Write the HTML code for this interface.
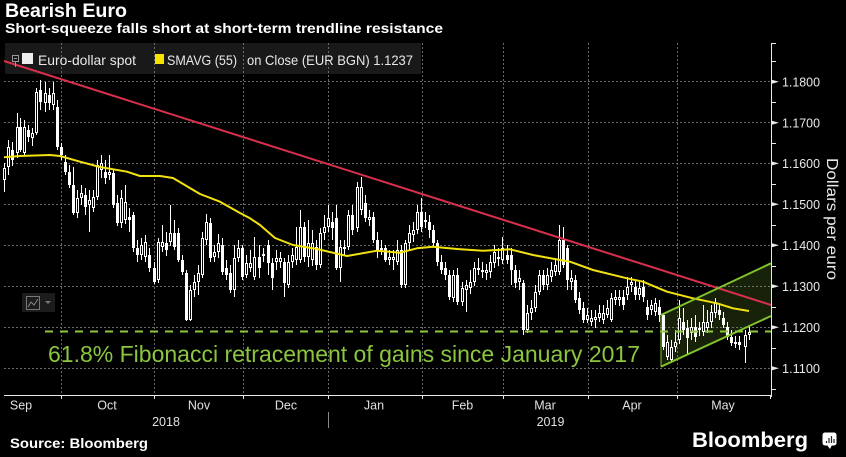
<!DOCTYPE html>
<html><head><meta charset="utf-8"><style>
html,body{margin:0;padding:0;background:#000;width:846px;height:457px;overflow:hidden}
svg{display:block}
text{font-family:"Liberation Sans",sans-serif}
</style></head><body>
<svg width="846" height="457" viewBox="0 0 846 457" xmlns="http://www.w3.org/2000/svg">
<rect x="0" y="0" width="846" height="457" fill="#000"/>
<!-- titles -->
<text x="5" y="17" font-size="19" font-weight="bold" fill="#fff" textLength="122" lengthAdjust="spacingAndGlyphs">Bearish Euro</text>
<text x="5" y="33" font-size="13.5" font-weight="bold" fill="#fff" textLength="438" lengthAdjust="spacingAndGlyphs">Short-squeeze falls short at short-term trendline resistance</text>

<!-- legend bg -->
<rect x="5" y="43" width="416" height="31" fill="#191919"/>

<!-- grid -->
<g stroke="#6a6a6a" stroke-width="1" stroke-dasharray="2 2" fill="none">
<path d="M61.5 43V395M154.5 43V395M243.5 43V395M328.5 43V395M422.5 43V395M503.5 43V395M588.5 43V395M677.5 43V395"/>
<path d="M4 81.5H771M4 122.5H771M4 163.5H771M4 204.5H771M4 245.5H771M4 286.5H771M4 327.5H771M4 368.5H771"/>
</g>

<!-- channel fill -->
<polygon points="661,315 771,263.3 771,316 661,366.7" fill="#8cc63e" fill-opacity="0.17"/>

<!-- candle wicks -->
<path fill="none" stroke="#fff" stroke-width="1" d="M4.5 163V192 M8.5 140V175 M12.5 142V166 M17.5 113V158 M20.5 118V152 M24.5 120V156 M28.5 125V142 M32.5 128V146 M36.5 88V135 M40.5 80V110 M45.5 82V112 M49.5 88V110 M53.5 82V110 M57.5 100V150 M61.5 143V160 M65.5 155V175 M69.5 165V188 M73.5 167V215 M77.5 190V218 M81.5 185V205 M85.5 188V215 M89.5 190V232 M93.5 190V212 M97.5 160V200 M101.5 155V178 M105.5 160V184 M109.5 155V180 M113.5 170V208 M117.5 195V226 M121.5 190V228 M125.5 185V224 M129.5 208V232 M133.5 212V252 M137.5 240V262 M141.5 238V260 M145.5 235V262 M149.5 248V272 M154.5 262V284 M158.5 238V283 M162.5 225V252 M166.5 232V256 M170.5 205V246 M174.5 220V250 M178.5 228V262 M182.5 255V275 M186.5 270V321 M190.5 285V321 M194.5 275V297 M198.5 265V295 M202.5 232V278 M206.5 214V245 M210.5 218V262 M214.5 245V262 M218.5 234V258 M222.5 238V275 M226.5 260V280 M230.5 265V293 M234.5 245V297 M238.5 240V262 M242.5 245V280 M246.5 255V278 M250.5 250V272 M254.5 237V280 M259.5 245V278 M263.5 248V262 M268.5 240V275 M272.5 258V290 M276.5 250V270 M280.5 252V268 M284.5 258V297 M288.5 255V288 M292.5 248V268 M296.5 227V265 M300.5 210V263 M304.5 222V262 M308.5 220V267 M312.5 230V266 M316.5 240V270 M320.5 228V268 M324.5 215V240 M328.5 205V232 M332.5 212V240 M336.5 205V270 M340.5 240V282 M344.5 240V255 M348.5 210V250 M352.5 205V235 M357.5 182V232 M361.5 177V215 M365.5 195V222 M369.5 210V226 M373.5 212V243 M377.5 232V258 M381.5 240V255 M385.5 245V262 M389.5 250V265 M393.5 250V270 M397.5 240V265 M401.5 245V288 M405.5 240V288 M409.5 225V250 M413.5 222V242 M417.5 205V234 M421.5 198V232 M425.5 212V228 M429.5 215V238 M433.5 225V246 M437.5 240V266 M441.5 255V274 M445.5 262V280 M449.5 270V300 M453.5 270V302 M457.5 268V305 M462.5 282V306 M466.5 280V312 M470.5 270V294 M474.5 262V286 M478.5 258V275 M482.5 262V278 M486.5 264V280 M490.5 255V278 M494.5 245V268 M498.5 248V266 M502.5 237V264 M507.5 245V264 M511.5 248V285 M515.5 265V288 M519.5 270V290 M523.5 280V335 M527.5 305V333 M531.5 300V320 M535.5 285V312 M539.5 270V295 M543.5 270V290 M547.5 268V290 M551.5 262V282 M555.5 258V276 M559.5 225V275 M563.5 227V268 M567.5 245V290 M571.5 270V290 M575.5 275V303 M579.5 292V314 M583.5 302V323 M587.5 308V323 M591.5 310V326 M595.5 310V328 M599.5 305V322 M603.5 305V324 M607.5 300V318 M611.5 293V322 M615.5 290V305 M619.5 290V306 M623.5 290V310 M627.5 277V300 M631.5 277V292 M635.5 280V300 M639.5 282V300 M643.5 280V302 M647.5 300V320 M651.5 300V315 M655.5 298V316 M659.5 300V322 M663.5 313V350 M667.5 335V360 M671.5 340V363 M675.5 330V352 M679.5 300V344 M683.5 308V335 M687.5 320V355 M691.5 318V340 M695.5 315V342 M699.5 322V336 M703.5 305V336 M707.5 310V333 M711.5 305V328 M715.5 298V318 M719.5 305V320 M723.5 312V328 M727.5 322V340 M731.5 330V346 M735.5 336V348 M739.5 336V350 M745.5 330V363 M749.5 325V340"/>

<!-- filled bodies -->
<path fill="#fff" d="M11 150h3V160h-3z M19 127h3V150h-3z M27 130h3V137h-3z M39 90h3V102h-3z M48 95h3V103h-3z M56 107h3V147h-3z M60 147h3V155h-3z M64 162h3V172h-3z M68 172h3V185h-3z M72 185h3V213h-3z M84 195h3V207h-3z M104 172h3V178h-3z M112 173h3V205h-3z M116 203h3V223h-3z M128 217h3V220h-3z M132 215h3V248h-3z M136 248h3V255h-3z M148 255h3V268h-3z M153 268h3V282h-3z M165 243h3V250h-3z M173 233h3V247h-3z M177 233h3V260h-3z M181 260h3V272h-3z M185 273h3V320h-3z M209 223h3V258h-3z M221 245h3V272h-3z M225 268h3V275h-3z M229 273h3V290h-3z M241 248h3V277h-3z M258 257h3V268h-3z M267 245h3V263h-3z M271 263h3V278h-3z M283 262h3V283h-3z M303 227h3V257h-3z M315 247h3V265h-3z M331 222h3V228h-3z M335 218h3V268h-3z M351 215h3V230h-3z M364 203h3V218h-3z M372 217h3V240h-3z M376 240h3V250h-3z M384 248h3V260h-3z M400 250h3V285h-3z M420 212h3V227h-3z M428 222h3V230h-3z M432 230h3V243h-3z M436 243h3V262h-3z M440 262h3V270h-3z M444 268h3V275h-3z M448 275h3V297h-3z M456 275h3V302h-3z M481 270h3V272h-3z M506 255h3V260h-3z M510 255h3V270h-3z M514 270h3V283h-3z M522 283h3V330h-3z M542 275h3V285h-3z M562 240h3V265h-3z M566 248h3V280h-3z M574 280h3V300h-3z M578 298h3V310h-3z M582 308h3V320h-3z M622 297h3V305h-3z M634 287h3V295h-3z M642 287h3V297h-3z M646 307h3V315h-3z M658 307h3V315h-3z M662 315h3V347h-3z M682 322h3V330h-3z M686 328h3V338h-3z M694 327h3V337h-3z M718 310h3V315h-3z M722 318h3V325h-3z M726 327h3V337h-3z M730 337h3V343h-3z M738 342h3V345h-3z"/>

<!-- hollow bodies -->
<path fill="#000" stroke="#fff" stroke-width="1" d="M3.5 168.5h2V179.5h-2z M7.5 147.5h2V166.5h-2z M16.5 127.5h2V152.5h-2z M23.5 127.5h2V152.5h-2z M31.5 133.5h2V137.5h-2z M35.5 92.5h2V132.5h-2z M44.5 93.5h2V102.5h-2z M52.5 93.5h2V104.5h-2z M76.5 198.5h2V212.5h-2z M80.5 193.5h2V197.5h-2z M88.5 200.5h2V204.5h-2z M92.5 197.5h2V207.5h-2z M96.5 165.5h2V196.5h-2z M100.5 163.5h2V169.5h-2z M108.5 172.5h2V174.5h-2z M120.5 198.5h2V222.5h-2z M124.5 202.5h2V219.5h-2z M140.5 245.5h2V254.5h-2z M144.5 242.5h2V256.5h-2z M157.5 242.5h2V279.5h-2z M161.5 242.5h2V246.5h-2z M169.5 233.5h2V241.5h-2z M189.5 290.5h2V319.5h-2z M193.5 282.5h2V289.5h-2z M197.5 273.5h2V281.5h-2z M201.5 238.5h2V274.5h-2z M205.5 222.5h2V239.5h-2z M213.5 252.5h2V256.5h-2z M217.5 243.5h2V251.5h-2z M233.5 258.5h2V289.5h-2z M237.5 248.5h2V257.5h-2z M245.5 263.5h2V274.5h-2z M249.5 263.5h2V267.5h-2z M253.5 257.5h2V276.5h-2z M262.5 254.5h2V255.5h-2z M275.5 258.5h2V261.5h-2z M279.5 258.5h2V261.5h-2z M287.5 262.5h2V284.5h-2z M291.5 255.5h2V261.5h-2z M295.5 247.5h2V259.5h-2z M299.5 227.5h2V259.5h-2z M307.5 243.5h2V256.5h-2z M311.5 243.5h2V259.5h-2z M319.5 233.5h2V264.5h-2z M323.5 227.5h2V232.5h-2z M327.5 218.5h2V226.5h-2z M339.5 247.5h2V267.5h-2z M343.5 247.5h2V248.5h-2z M347.5 215.5h2V246.5h-2z M356.5 187.5h2V227.5h-2z M360.5 187.5h2V209.5h-2z M368.5 217.5h2V219.5h-2z M380.5 248.5h2V249.5h-2z M388.5 257.5h2V259.5h-2z M392.5 257.5h2V259.5h-2z M396.5 250.5h2V261.5h-2z M404.5 243.5h2V284.5h-2z M408.5 233.5h2V242.5h-2z M412.5 230.5h2V234.5h-2z M416.5 212.5h2V229.5h-2z M424.5 220.5h2V221.5h-2z M452.5 275.5h2V297.5h-2z M461.5 288.5h2V301.5h-2z M465.5 285.5h2V289.5h-2z M469.5 282.5h2V287.5h-2z M473.5 268.5h2V281.5h-2z M477.5 268.5h2V269.5h-2z M485.5 270.5h2V272.5h-2z M489.5 262.5h2V271.5h-2z M493.5 252.5h2V262.5h-2z M497.5 257.5h2V258.5h-2z M501.5 248.5h2V259.5h-2z M518.5 278.5h2V281.5h-2z M526.5 313.5h2V329.5h-2z M530.5 308.5h2V312.5h-2z M534.5 292.5h2V307.5h-2z M538.5 275.5h2V291.5h-2z M546.5 275.5h2V284.5h-2z M550.5 270.5h2V276.5h-2z M554.5 265.5h2V271.5h-2z M558.5 240.5h2V271.5h-2z M570.5 278.5h2V281.5h-2z M586.5 315.5h2V319.5h-2z M590.5 318.5h2V321.5h-2z M594.5 317.5h2V319.5h-2z M598.5 313.5h2V317.5h-2z M602.5 313.5h2V319.5h-2z M606.5 308.5h2V314.5h-2z M610.5 298.5h2V319.5h-2z M614.5 297.5h2V299.5h-2z M618.5 297.5h2V299.5h-2z M626.5 287.5h2V294.5h-2z M630.5 282.5h2V284.5h-2z M638.5 288.5h2V294.5h-2z M650.5 305.5h2V309.5h-2z M654.5 303.5h2V311.5h-2z M666.5 342.5h2V356.5h-2z M670.5 347.5h2V359.5h-2z M674.5 342.5h2V346.5h-2z M678.5 318.5h2V339.5h-2z M690.5 327.5h2V332.5h-2z M698.5 328.5h2V329.5h-2z M702.5 322.5h2V331.5h-2z M706.5 322.5h2V327.5h-2z M710.5 312.5h2V321.5h-2z M714.5 303.5h2V312.5h-2z M734.5 342.5h2V343.5h-2z M744.5 335.5h2V346.5h-2z M748.5 332.5h2V334.5h-2z"/>

<!-- SMA -->
<path fill="none" stroke="#f2e20f" stroke-width="2" stroke-linejoin="round" d="M4 157.3 L20 156 L50 155 L60 156 L80 161.7 L100 167 L127 171.7 L140 176 L160 176 L173 178 L200 194 L220 201.7 L240 213 L250 218.3 L260 225 L275 238 L293 245 L317 249 L347 256 L377 250.7 L400 252.7 L417 248.3 L433 246.7 L457 249 L483 250.7 L510 249.3 L533 255 L560 260 L570 261.7 L593 270 L627 278.3 L643 281.7 L667 291.7 L693 298.3 L717 303.3 L733 308.3 L749 311"/>

<!-- red trendline -->
<line x1="4" y1="61" x2="771" y2="305" stroke="#d8304c" stroke-width="2"/>

<!-- channel lines -->
<g stroke="#80c22c" stroke-width="2" fill="none">
<line x1="661" y1="315" x2="771" y2="263.3"/>
<line x1="661" y1="366.7" x2="771" y2="316"/>
<line x1="661" y1="315" x2="661" y2="366.7" stroke-width="1"/>
</g>

<!-- fib line -->
<line x1="45" y1="331.5" x2="771" y2="331.5" stroke="#8cc63e" stroke-width="2" stroke-dasharray="8 7"/>
<text x="48" y="362" font-size="23" fill="#8cc63e" textLength="592" lengthAdjust="spacingAndGlyphs">61.8% Fibonacci retracement of gains since January 2017</text>

<!-- legend content -->
<g>
<rect x="12.5" y="55.5" width="6" height="6" fill="none" stroke="#999" stroke-width="1"/>
<line x1="14" y1="58.5" x2="17" y2="58.5" stroke="#999"/>
<line x1="15.5" y1="62" x2="15.5" y2="67" stroke="#999"/>
<rect x="22" y="53" width="11" height="11" fill="#eee"/>
<text x="38" y="65" font-size="14" fill="#e8e8e8" textLength="98" lengthAdjust="spacingAndGlyphs">Euro-dollar spot</text>
<rect x="155" y="54" width="9" height="10" fill="#f5e400"/>
<text x="167" y="65" font-size="14" fill="#e8e8e8" textLength="70" lengthAdjust="spacingAndGlyphs">SMAVG (55)</text>
<text x="247" y="65" font-size="14" fill="#e8e8e8" textLength="166" lengthAdjust="spacingAndGlyphs">on Close (EUR BGN) 1.1237</text>
</g>

<!-- chart widget -->
<rect x="22" y="293" width="33" height="19" fill="#1c1c1c"/>
<rect x="26.5" y="296.5" width="13" height="13" fill="none" stroke="#777" stroke-width="1"/>
<polyline points="28,307 31,302 34,305 38,299" fill="none" stroke="#888" stroke-width="1"/>
<polygon points="45,301 51,301 48,304" fill="#777"/>

<!-- y axis -->
<g stroke="#e8e8e8" stroke-width="1" fill="none">
<line x1="771.5" y1="43" x2="771.5" y2="397"/>
<path d="M771 43.5H776 M771 61.5H776 M771 102.5H776 M771 143.5H776 M771 184.5H776 M771 225.5H776 M771 266.5H776 M771 307.5H776 M771 348.5H776 M771 389.5H776"/>
</g>
<g fill="#e8e8e8">
<polygon points="771,79.5 779,81.7 771,84"/>
<polygon points="771,120.5 779,122.7 771,125"/>
<polygon points="771,161.2 779,163.4 771,165.7"/>
<polygon points="771,202 779,204.2 771,206.5"/>
<polygon points="771,243 779,245.2 771,247.5"/>
<polygon points="771,284 779,286.2 771,288.5"/>
<polygon points="771,325 779,327.3 771,329.6"/>
<polygon points="771,366 779,368.3 771,370.6"/>
</g>
<g font-size="13" fill="#e8e8e8">
<text x="782" y="86.5" textLength="38" lengthAdjust="spacingAndGlyphs">1.1800</text>
<text x="782" y="127.5" textLength="38" lengthAdjust="spacingAndGlyphs">1.1700</text>
<text x="782" y="168.2" textLength="38" lengthAdjust="spacingAndGlyphs">1.1600</text>
<text x="782" y="209" textLength="38" lengthAdjust="spacingAndGlyphs">1.1500</text>
<text x="782" y="250" textLength="38" lengthAdjust="spacingAndGlyphs">1.1400</text>
<text x="782" y="291" textLength="38" lengthAdjust="spacingAndGlyphs">1.1300</text>
<text x="782" y="332" textLength="38" lengthAdjust="spacingAndGlyphs">1.1200</text>
<text x="782" y="373" textLength="38" lengthAdjust="spacingAndGlyphs">1.1100</text>
</g>
<text transform="translate(827,219) rotate(90)" text-anchor="middle" font-size="16" fill="#e8e8e8" textLength="122" lengthAdjust="spacingAndGlyphs">Dollars per euro</text>

<!-- x axis -->
<g stroke="#e8e8e8" stroke-width="1">
<line x1="4" y1="395.5" x2="771" y2="395.5"/>
<path d="M61.5 395V399 M154.5 395V399 M243.5 395V399 M328.5 395V399 M422.5 395V399 M503.5 395V399 M588.5 395V399 M677.5 395V399 M770.5 395V399"/>
</g>
<line x1="328.5" y1="412" x2="328.5" y2="428" stroke="#888" stroke-width="1"/>
<g font-size="12.5" fill="#e0e0e0" text-anchor="middle">
<text x="21" y="409.5">Sep</text>
<text x="107" y="409.5">Oct</text>
<text x="199" y="409.5">Nov</text>
<text x="286" y="409.5">Dec</text>
<text x="374" y="409.5">Jan</text>
<text x="462.5" y="409.5">Feb</text>
<text x="545" y="409.5">Mar</text>
<text x="632" y="409.5">Apr</text>
<text x="723" y="409.5">May</text>
<text x="166" y="426">2018</text>
<text x="550.5" y="426">2019</text>
</g>

<!-- footer -->
<text x="10" y="448" font-size="14" font-weight="bold" fill="#fff" textLength="138" lengthAdjust="spacingAndGlyphs">Source: Bloomberg</text>
<text x="692" y="447" font-size="21" font-weight="bold" fill="#fff" textLength="116" lengthAdjust="spacingAndGlyphs">Bloomberg</text>
<rect x="822.5" y="432.5" width="14" height="13" rx="2.5" fill="#fff"/>
<polygon points="827,445 830,449 832,445" fill="#fff"/>
<g stroke="#222" stroke-width="1.2">
<line x1="826.5" y1="441" x2="826.5" y2="443"/>
<line x1="829" y1="438" x2="829" y2="443"/>
<line x1="831.5" y1="436" x2="831.5" y2="443"/>
<line x1="834" y1="439" x2="834" y2="443"/>
</g>
</svg>
</body></html>
